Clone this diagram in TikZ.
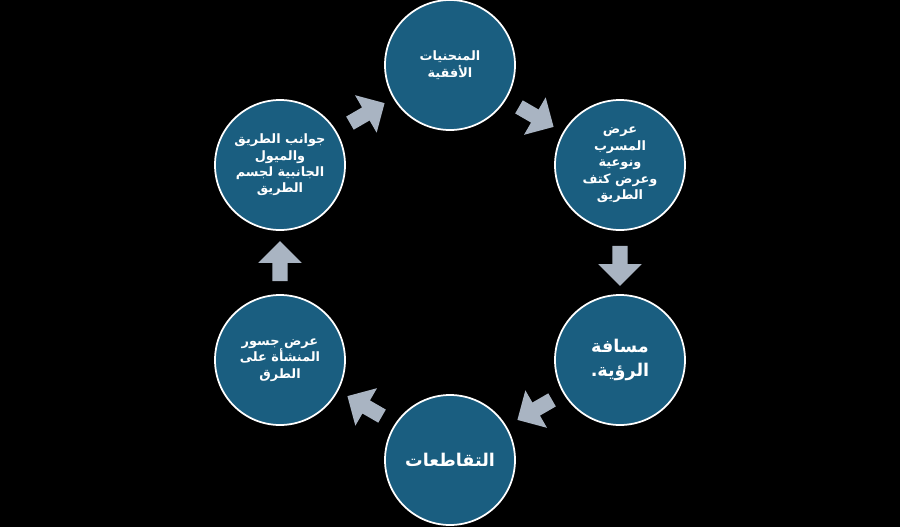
\documentclass[tikz,border=0pt]{standalone}
\usepackage{fontspec}
\newfontfamily\arabfont[Script=Arabic]{DejaVu Sans}
\usetikzlibrary{shapes.arrows}
\TeXXeTstate=1
\newcommand{\rtl}[1]{\beginR #1\endR}
\definecolor{stageblue}{HTML}{1A5E80}
\definecolor{arrowgrey}{HTML}{A9B4C2}
\begin{document}
\begin{tikzpicture}[x=0.03cm, y=-0.03cm]
\tikzstyle{stage}=[circle, fill=stageblue, draw=white, line width=1.5pt, minimum size=3.9cm,
  inner sep=0pt, align=center, text=white, font=\arabfont\bfseries\fontsize{11}{14}\selectfont]
\tikzstyle{bigstage}=[stage, font=\arabfont\bfseries\fontsize{15}{20}\selectfont]
\tikzstyle{flow}=[single arrow, fill=arrowgrey, minimum height=1.2cm, minimum width=1.3cm,
  single arrow head extend=0.2cm, inner sep=0.1cm]
\fill[black] (0,0) rectangle (900,527);
\useasboundingbox (0,0) rectangle (900,527);
\node[stage] (curves) at (450,65) {\rtl{المنحنيات}\\ \rtl{الأفقية}};
\node[stage] (lane) at (620,165) {\rtl{عرض}\\ \rtl{المسرب}\\ \rtl{ونوعية}\\ \rtl{وعرض كتف}\\ \rtl{الطريق}};
\node[bigstage] (sight) at (620,360) {\rtl{مسافة}\\ \rtl{الرؤية.}};
\node[bigstage] (junction) at (450,460) {\rtl{التقاطعات}};
\node[stage] (bridge) at (280,360) {\rtl{عرض جسور}\\ \rtl{المنشأة على}\\ \rtl{الطرق}};
\node[stage] (sides) at (280,165) {\rtl{جوانب الطريق}\\ \rtl{والميول}\\ \rtl{الجانبية لجسم}\\ \rtl{الطريق}};
\node[flow, rotate=30] (a1) at (364,115) {};
\node[flow, rotate=-30] (a2) at (533,115) {};
\node[flow, rotate=-90] (a3) at (620,262) {};
\node[flow, rotate=-150] (a4) at (538,408) {};
\node[flow, rotate=150] (a5) at (368,408) {};
\node[flow, rotate=90] (a6) at (280,265) {};
\end{tikzpicture}
\end{document}
